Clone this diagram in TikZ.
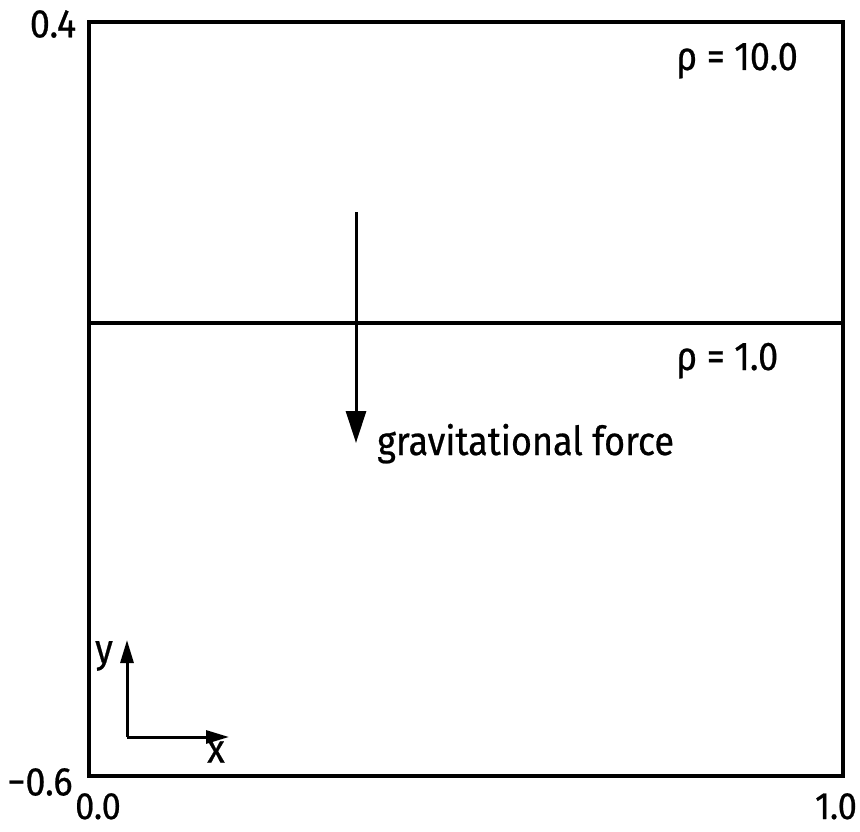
\documentclass[tikz,border=0pt]{standalone}
\usepackage{fontspec}
\setmainfont{Fira Sans}[FakeStretch=0.9,FakeBold=0.6]
\usetikzlibrary{arrows.meta}
\begin{document}
\begin{tikzpicture}[x=1pt,y=-1pt,
  lbl/.style={inner sep=0pt,font=\fontsize{40}{46}\selectfont},
  frame/.style={line width=3.6pt,line join=miter},
  arr/.style={line width=3pt,-{Triangle[length=32pt,width=20pt]}},
  axarr/.style={line width=3pt,-{Triangle[length=23pt,width=13pt]}}]
\useasboundingbox (0,0) rectangle (860,832);
\coordinate (tl) at (89,22);
\coordinate (br) at (843,776);
\draw[frame] (tl) rectangle (br);
\coordinate (il) at (89,323);
\coordinate (ir) at (843,323);
\draw[line width=3.2pt] (il) -- (ir);
\coordinate (gtop) at (356,212);
\coordinate (gbot) at (356,443);
\draw[arr] (gtop) -- (gbot);
\node[lbl,anchor=base west] (grav) at (377,455) {gravitational force};
\node[lbl,anchor=base west] (rho1) at (676,70) {ρ = 10.0};
\node[lbl,anchor=base west] (rho2) at (676,370) {ρ = 1.0};
\coordinate (o) at (127,737);
\coordinate (ye) at (127,640);
\coordinate (xe) at (229,737);
\draw[axarr] (o) -- (ye);
\draw[axarr] (o) -- (xe);
\node[lbl,anchor=center] (ylab) at (104,656) {y};
\node[lbl,anchor=center] (xlab) at (216,752) {x};
\node[lbl,anchor=center] (t04) at (53,24) {0.4};
\node[lbl,anchor=center] (tm06) at (40,782) {−0.6};
\node[lbl,anchor=base,font=\fontsize{38}{44}\selectfont] (t00) at (98,819) {0.0};
\node[lbl,anchor=base,font=\fontsize{38}{44}\selectfont] (t10) at (836,819) {1.0};
\end{tikzpicture}
\end{document}
